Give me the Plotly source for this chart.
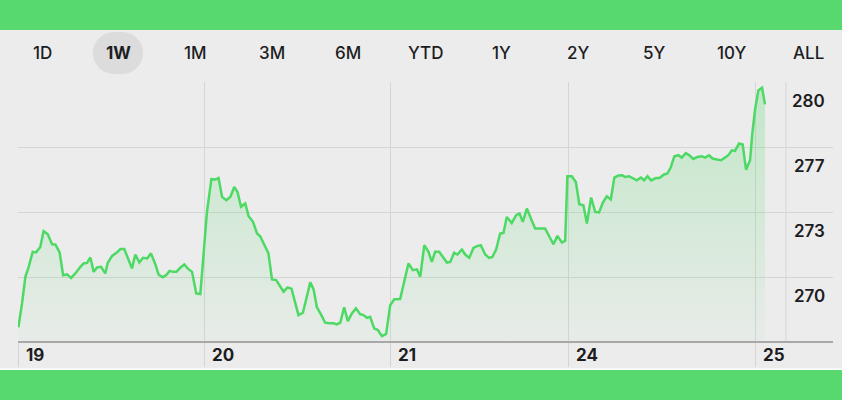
import plotly.graph_objects as go

# Palette taken from the stock-app screenshot
BG = "#ECECEC"
GRID = "#D5D5D5"
AXIS = "#A8A8A8"
LINE_GREEN = "#4CD964"
BAND_GREEN = "#57D96F"
PILL = "#DCDCDC"
TEXT = "#1D1D1F"
FONT = "Inter, Roboto, sans-serif"

# Range selector tabs (1W is active)
tabs = ["1D", "1W", "1M", "3M", "6M", "YTD", "1Y", "2Y", "5Y", "10Y", "ALL"]
active_tab = "1W"

# Trading days shown on the 1W view and where each session starts (in trading days)
day_labels = ["19", "20", "21", "24", "25"]
day_starts = [0, 1.0095, 2.019, 2.985, 4.0]
label_column = 4.168  # price labels live right of this

# Price gridlines and their printed labels
price_ticks = [280.0, 276.667, 273.333, 270.0]
price_labels = ["280", "277", "273", "270"]
y_range = [266.72, 280.02]
x_range = [-0.002, 4.4233]

# Price path (time in trading days since the 19th open)
t = [
    # 19
    0.000, 0.020, 0.038, 0.056, 0.078, 0.096, 0.119, 0.137, 0.159, 0.183,
    0.201, 0.224, 0.243, 0.264, 0.286, 0.309, 0.337, 0.354, 0.373, 0.391,
    0.409, 0.427, 0.449, 0.472, 0.485, 0.509, 0.536, 0.554, 0.575, 0.593,
    0.617, 0.635, 0.657, 0.677, 0.699, 0.720, 0.744, 0.761, 0.783, 0.802,
    0.821, 0.840, 0.858, 0.879, 0.901, 0.919, 0.943, 0.966, 0.988,
    # 20
    1.024, 1.048, 1.069, 1.087, 1.106, 1.129, 1.151, 1.172, 1.190, 1.209,
    1.232, 1.250, 1.274, 1.296, 1.313, 1.331, 1.358, 1.377, 1.400, 1.440,
    1.462, 1.483, 1.503, 1.521, 1.545, 1.567, 1.585, 1.603, 1.621, 1.643,
    1.666, 1.690, 1.711, 1.730, 1.748, 1.769, 1.789, 1.811, 1.833, 1.856,
    1.874, 1.893, 1.910, 1.932, 1.952, 1.974, 1.997,
    # 21
    2.019, 2.041, 2.073, 2.095, 2.118, 2.142, 2.164, 2.182, 2.204, 2.227,
    2.245, 2.263, 2.285, 2.327, 2.345, 2.366, 2.384, 2.408, 2.426, 2.448,
    2.471, 2.490, 2.511, 2.535, 2.556, 2.574, 2.594, 2.616, 2.634, 2.652,
    2.679, 2.703, 2.721, 2.739, 2.761, 2.783, 2.806, 2.833, 2.860, 2.905,
    2.927, 2.951, 2.969,
    # 24
    2.981, 3.005, 3.027, 3.046, 3.068, 3.087, 3.110, 3.132, 3.153, 3.173,
    3.195, 3.217, 3.236, 3.258, 3.280, 3.294, 3.316, 3.336, 3.358, 3.380,
    3.398, 3.416, 3.436, 3.461, 3.481, 3.506, 3.524, 3.542, 3.562, 3.584,
    3.602, 3.624, 3.643, 3.665, 3.687, 3.711, 3.729, 3.750, 3.770, 3.792,
    3.816, 3.837, 3.855, 3.874, 3.891, 3.913, 3.933, 3.951, 3.973,
    # 25
    3.985, 4.000, 4.018, 4.038, 4.054,
]
price = [
    # 19
    267.42, 268.65, 270.02, 270.53, 271.30, 271.27, 271.55, 272.36, 272.21, 271.69,
    271.68, 271.27, 270.10, 270.14, 269.96, 270.19, 270.53, 270.70, 270.73, 271.01,
    270.27, 270.50, 270.53, 270.19, 270.73, 271.09, 271.27, 271.44, 271.44, 271.01,
    270.45, 271.16, 270.75, 270.99, 270.96, 271.22, 270.65, 270.14, 269.99, 270.10,
    270.32, 270.27, 270.27, 270.48, 270.65, 270.45, 270.27, 269.16, 269.13,
    # 20
    273.35, 275.03, 275.01, 275.09, 274.12, 273.95, 274.12, 274.63, 274.37, 273.61,
    273.78, 273.13, 272.84, 272.24, 272.10, 271.73, 271.22, 269.88, 269.85, 269.25,
    269.47, 269.41, 268.73, 268.05, 268.17, 268.99, 269.73, 269.37, 268.45, 268.09,
    267.66, 267.63, 267.63, 267.57, 267.66, 268.45, 267.74, 268.14, 268.40, 268.10,
    268.05, 267.91, 267.96, 267.37, 267.28, 266.97, 267.08,
    # 21
    268.56, 268.86, 268.87, 269.76, 270.70, 270.36, 270.40, 270.02, 271.64, 271.30,
    270.78, 271.30, 271.30, 270.75, 270.78, 271.25, 271.16, 271.42, 271.16, 270.99,
    271.50, 271.59, 271.64, 271.16, 270.99, 271.04, 271.42, 272.24, 272.27, 273.09,
    272.78, 273.18, 273.27, 272.84, 273.52, 273.01, 272.50, 272.50, 272.50, 271.69,
    272.12, 271.78, 271.86,
    # 24
    275.18, 275.18, 274.89, 273.74, 273.69, 272.75, 274.09, 273.35, 273.32, 273.81,
    274.15, 273.99, 275.11, 275.22, 275.23, 275.14, 275.18, 275.06, 274.97, 275.11,
    274.97, 275.18, 274.97, 275.09, 275.09, 275.27, 275.32, 275.63, 276.21, 276.26,
    276.14, 276.37, 276.26, 276.07, 276.17, 276.21, 276.14, 276.26, 276.09, 276.04,
    276.00, 276.14, 276.26, 276.51, 276.48, 276.86, 276.81, 275.52, 276.00,
    # 25
    277.37, 278.60, 279.59, 279.73, 278.87,
]

# plot box in page pixels: x 18..833, y 82..341
W, H = 842, 400
M = dict(l=18, r=9, t=82, b=59)
PW = W - M["l"] - M["r"]
PH = H - M["t"] - M["b"]


def px_to_paper_x(px):
    return (px - M["l"]) / PW


def py_to_paper_y(py):
    return (H - M["b"] - py) / PH


fig = go.Figure()
fig.add_trace(go.Scatter(
    x=t, y=price, mode="lines",
    line=dict(color=LINE_GREEN, width=2.5),
    fill="tozeroy",
    fillgradient=dict(
        type="vertical", start=y_range[0], stop=280,
        colorscale=[[0, "rgba(76,217,100,0.03)"], [1, "rgba(76,217,100,0.27)"]],
    ),
    hoverinfo="skip",
))

shapes = [
    # green frame bands + thin white rule above the bottom band
    dict(type="rect", xref="paper", yref="paper", x0=-0.1, x1=1.1,
         y0=py_to_paper_y(30), y1=py_to_paper_y(-10), fillcolor=BAND_GREEN, line_width=0, layer="below"),
    dict(type="rect", xref="paper", yref="paper", x0=-0.1, x1=1.1,
         y0=py_to_paper_y(410), y1=py_to_paper_y(370), fillcolor=BAND_GREEN, line_width=0, layer="below"),
    dict(type="rect", xref="paper", yref="paper", x0=-0.1, x1=1.1,
         y0=py_to_paper_y(370), y1=py_to_paper_y(368.5), fillcolor="white", line_width=0, layer="below"),
    # divider before the price label column
    dict(type="line", xref="x", yref="paper", x0=label_column, x1=label_column, y0=0, y1=1,
         line=dict(color=GRID, width=1), layer="below"),
]

annotations = []

# tab bar
tab_y = py_to_paper_y(53)
for i, name in enumerate(tabs):
    cx = px_to_paper_x(42 + i * 76.6)
    if name == active_tab:
        shapes.append(dict(
            type="path", xref="paper", yref="paper", xsizemode="pixel", ysizemode="pixel",
            xanchor=px_to_paper_x(118), yanchor=tab_y,
            path="M -4,21 L 4,21 C 15.6,21 25,11.6 25,0 C 25,-11.6 15.6,-21 4,-21 "
                 "L -4,-21 C -15.6,-21 -25,-11.6 -25,0 C -25,11.6 -15.6,21 -4,21 Z",
            fillcolor=PILL, line_width=0, layer="below",
        ))
    annotations.append(dict(
        text=name, xref="paper", yref="paper", x=cx, y=tab_y,
        xanchor="center", yanchor="middle", showarrow=False,
        font=dict(family=FONT, size=17, color=TEXT, weight=700 if name == active_tab else 500),
    ))

# day labels sit just right of their session line, under the axis
for pos, lab in zip(day_starts, day_labels):
    annotations.append(dict(
        text=lab, xref="x", yref="paper", x=pos, y=0, xanchor="left", yanchor="middle",
        xshift=6, yshift=-14, showarrow=False,
        font=dict(family=FONT, size=17, color=TEXT, weight=700),
    ))

# price labels sit under their gridline in the right-hand column
for val, lab in zip(price_ticks, price_labels):
    annotations.append(dict(
        text=lab, xref="paper", yref="y", x=1, y=val, xanchor="right", yanchor="middle",
        xshift=-6, yshift=-19, showarrow=False,
        font=dict(family=FONT, size=17, color=TEXT, weight=600),
    ))

fig.update_layout(
    width=W, height=H, margin=M,
    paper_bgcolor=BG, plot_bgcolor=BG,
    showlegend=False, hovermode=False,
    shapes=shapes, annotations=annotations,
    xaxis=dict(
        range=x_range, tickvals=day_starts, showticklabels=False,
        showgrid=True, gridcolor=GRID, gridwidth=1, zeroline=False,
        ticks="outside", ticklen=24, tickcolor=GRID, tickwidth=1,
        showline=True, linecolor=AXIS, linewidth=2,
    ),
    yaxis=dict(
        range=y_range, tickvals=price_ticks, showticklabels=False,
        showgrid=True, gridcolor=GRID, gridwidth=1, zeroline=False,
    ),
)

# the page's default body margin would push the figure 8px in
fig.write_html(
    "out.html",
    config={"displayModeBar": False},
    post_script="document.body.style.margin = '0';",
)
